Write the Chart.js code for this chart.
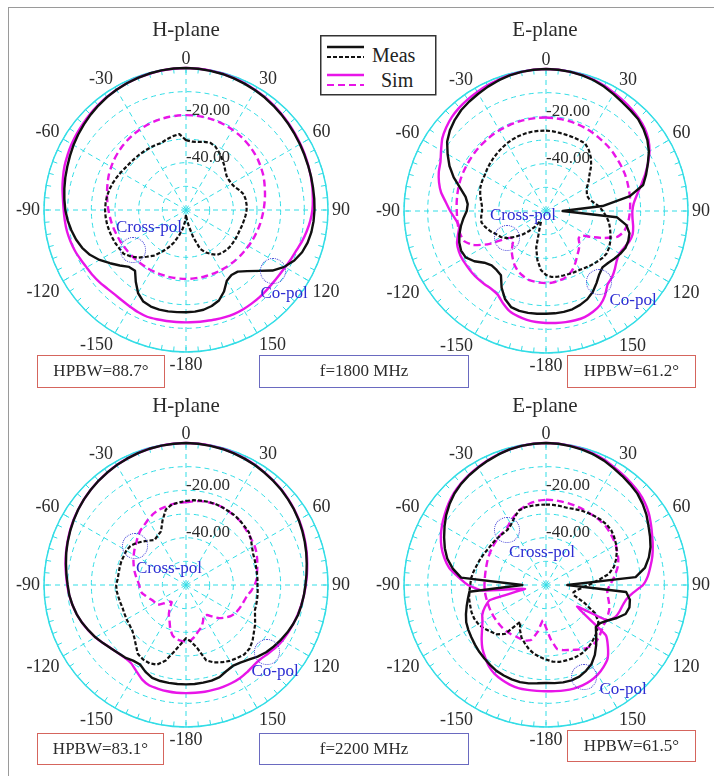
<!DOCTYPE html>
<html>
<head>
<meta charset="UTF-8" />
<title>Radiation patterns • 1800 / 2200 MHz</title>
<script src="https://cdn.jsdelivr.net/npm/chart.js@4.4.1/dist/chart.umd.min.js"></script>
<style>
  body { margin: 0; background: #fff; }
  #figure { position: relative; width: 714px; height: 776px; overflow: hidden; font-family: 'Liberation Serif', 'Times New Roman', serif; color: #2b2b2b; }
  .frame { position: absolute; left: 8px; top: 7px; width: 740px; height: 800px; border: 1px solid #9a9a9a; }
  canvas { position: absolute; }
  .title { position: absolute; width: 120px; margin-left: -60px; text-align: center; font-size: 21px; line-height: 24px; margin-top: -12px; }
  .box { position: absolute; box-sizing: border-box; text-align: center; font-size: 17px; }
  .hpbw { border: 1.5px solid #d5655d; }
  .freq { border: 1.5px solid #6a6ac0; }
  .note { position: absolute; color: #2d2dd2; font-size: 17px; line-height: 18px; transform: translate(-50%, -50%); white-space: nowrap; }
  .spot { position: absolute; width: 26px; height: 26px; margin: -13px 0 0 -13px; box-sizing: border-box; border: 1px dotted #3b3bd6; border-radius: 50%; }
</style>
</head>
<body>
<div id="figure">
  <div class="frame"></div>

  <canvas id="p1" width="360" height="360" style="left:6px;top:30px"></canvas>
  <canvas id="p2" width="360" height="360" style="left:366px;top:31px"></canvas>
  <canvas id="p3" width="360" height="360" style="left:6px;top:405px"></canvas>
  <canvas id="p4" width="360" height="360" style="left:366px;top:405px"></canvas>

  <div class="title" style="left:186px;top:29px">H-plane</div>
  <div class="title" style="left:545px;top:29px">E-plane</div>
  <div class="title" style="left:186px;top:405px">H-plane</div>
  <div class="title" style="left:545px;top:405px">E-plane</div>

  <svg width="117" height="61" style="position:absolute;left:320px;top:35px">
    <rect x="0.75" y="0.75" width="115" height="59" fill="#fff" stroke="#333" stroke-width="1.5"/>
    <line x1="7" y1="12" x2="44" y2="12" stroke="#111" stroke-width="2.4"/>
    <line x1="7" y1="22" x2="44" y2="22" stroke="#111" stroke-width="2.2" stroke-dasharray="4 2"/>
    <line x1="7" y1="40" x2="44" y2="40" stroke="#e815e8" stroke-width="2.4"/>
    <line x1="7" y1="50" x2="44" y2="50" stroke="#e815e8" stroke-width="2.2" stroke-dasharray="7 4"/>
    <text x="52" y="27" font-size="20" font-family="Liberation Serif" fill="#222">Meas</text>
    <text x="61" y="52" font-size="20" font-family="Liberation Serif" fill="#222">Sim</text>
  </svg>

  <div class="spot" style="left:133px;top:250px"></div>
  <div class="note" style="left:149px;top:227px">Cross-pol</div>
  <div class="spot" style="left:273px;top:271px"></div>
  <div class="note" style="left:284px;top:293px">Co-pol</div>

  <div class="spot" style="left:507px;top:238px"></div>
  <div class="note" style="left:523px;top:215px">Cross-pol</div>
  <div class="spot" style="left:599px;top:282px"></div>
  <div class="note" style="left:633px;top:300px">Co-pol</div>

  <div class="spot" style="left:135px;top:546px"></div>
  <div class="note" style="left:169px;top:568px">Cross-pol</div>
  <div class="spot" style="left:267px;top:652px"></div>
  <div class="note" style="left:275px;top:671px">Co-pol</div>

  <div class="spot" style="left:507px;top:530px"></div>
  <div class="note" style="left:542px;top:552px">Cross-pol</div>
  <div class="spot" style="left:584px;top:677px"></div>
  <div class="note" style="left:623px;top:689px">Co-pol</div>

  <div class="box hpbw" style="left:37px;top:355px;width:128px;height:33px;line-height:30px">HPBW=88.7°</div>
  <div class="box freq" style="left:259px;top:355px;width:210px;height:33px;line-height:30px">f=1800 MHz</div>
  <div class="box hpbw" style="left:567px;top:355px;width:129px;height:33px;line-height:30px">HPBW=61.2°</div>
  <div class="box hpbw" style="left:37px;top:733px;width:127px;height:32px;line-height:29px">HPBW=83.1°</div>
  <div class="box freq" style="left:259px;top:733px;width:210px;height:32px;line-height:29px">f=2200 MHz</div>
  <div class="box hpbw" style="left:567px;top:730px;width:129px;height:32px;line-height:29px">HPBW=61.5°</div>
</div>

<script>
  // angle grid: 0..355 deg in 5 deg steps, clockwise from the top
  const angles = Array.from({ length: 72 }, (_, i) => i * 5);
  const tickLabels = ['0', '30', '60', '90', '120', '150', '-180', '-150', '-120', '-90', '-60', '-30'];
  const ringLabels = [-20, -40];

  // normalized patterns in dB, one value per 5 deg (0, 5, ... 355)
  // f = 1800 MHz, H-plane
  const coMeas1 = [0,-0.1,-0.3,-0.5,-0.8,-1.2,-1.6,-2.0,-2.5,-3.0,-3.5,-4.0,
    -4.4,-4.8,-5.1,-5.3,-5.5,-5.6,-5.7,-5.9,-6.2,-6.8,-7.8,-9.5,
    -12,-15.4,-20,-23.5,-26,-26.5,-25.5,-22,-19.3,-18,-17.2,-16.9,
    -16.8,-16.7,-16.5,-16.4,-16.6,-17.3,-19.5,-23,-26.5,-26,-23.5,-20.8,
    -17.8,-15.2,-13.3,-11.9,-10.8,-9.8,-9.0,-8.4,-7.8,-7.2,-6.6,-5.9,
    -5.1,-4.4,-3.7,-3.0,-2.4,-1.8,-1.3,-0.9,-0.6,-0.3,-0.1,0];
  const coSim1 = [0,-0.1,-0.2,-0.4,-0.7,-1.0,-1.4,-1.8,-2.3,-2.8,-3.3,-3.8,
    -4.2,-4.6,-5.0,-5.4,-5.8,-6.2,-6.6,-7.3,-8.2,-9.2,-10.3,-11.0,
    -11.6,-12.0,-12.1,-12.0,-11.8,-11.7,-11.6,-11.6,-11.8,-12.1,-12.4,-12.5,
    -12.5,-12.5,-12.4,-12.2,-12.0,-12.3,-12.8,-13.2,-13.3,-13.0,-12.4,-11.9,
    -11.5,-10.8,-10.0,-9.4,-8.9,-8.6,-8.3,-7.8,-7.0,-6.2,-5.4,-4.8,
    -4.2,-3.7,-3.2,-2.7,-2.2,-1.7,-1.3,-0.9,-0.6,-0.4,-0.2,-0.1];
  const crossMeas1 = [-30.5,-31,-30.8,-30.2,-29.8,-30.5,-32,-33.5,-35,-36.5,-37.6,-37.9,
    -37.8,-37.2,-35.8,-34.7,-34.4,-34.3,-34.4,-34.7,-35.1,-35.4,-35.7,-35.8,
    -35.8,-35.8,-35.8,-36,-36.3,-36.9,-38.5,-40.2,-42.5,-48,-53,-56,
    -58,-55,-52,-49,-45.5,-42.5,-39.5,-36.5,-34.2,-31.5,-29.5,-27.8,
    -27.5,-27,-26.7,-26.4,-26.1,-25.9,-25.8,-25.9,-26.1,-26.5,-27,-27.6,
    -28.2,-28.8,-29.1,-29.3,-29.4,-29.5,-29.6,-29.7,-29.8,-29,-28.3,-27.8];
  const crossSim1 = [-19.9,-19.9,-20,-20.1,-20.3,-20.5,-20.8,-21.1,-21.5,-21.9,-22.4,-22.9,
    -23.5,-24.1,-24.8,-25.5,-26.1,-26.7,-27.2,-27.7,-28.1,-28.5,-28.9,-29.2,
    -29.5,-29.8,-30,-30.2,-30.4,-30.5,-30.6,-30.7,-30.8,-30.8,-30.9,-30.9,
    -30.9,-30.9,-30.9,-30.8,-30.8,-30.7,-30.6,-30.5,-30.4,-30.2,-30,-29.8,
    -29.5,-29.2,-28.9,-28.5,-28.1,-27.7,-27.2,-26.7,-26.1,-25.5,-24.8,-24.1,
    -23.5,-22.9,-22.4,-21.9,-21.5,-21.1,-20.8,-20.5,-20.3,-20.1,-20,-19.9];

  // f = 1800 MHz, E-plane
  const coMeas2 = [0,-0.1,-0.3,-0.7,-1.2,-2,-3,-3.9,-4.5,-5,-6.2,-7.7,
    -9.8,-12.5,-15,-17.5,-24,-36,-53,-30,-25.5,-23.5,-23,-23,
    -23.8,-24.8,-25.8,-26.3,-25,-22.8,-20.5,-18.8,-17.8,-17,-16.7,-16.6,
    -16.6,-16.4,-16.3,-16.3,-16.8,-19,-22.5,-26.8,-27.5,-27.5,-26,-23,
    -20.8,-20.4,-21,-22.1,-23.5,-25,-26.5,-26.8,-25.5,-22.5,-18.5,-15,
    -12,-9,-7,-5.5,-4.3,-3.5,-2.8,-2,-1.3,-0.7,-0.3,-0.1];
  const coSim2 = [0,-0.1,-0.3,-0.6,-1.0,-1.6,-2.4,-3.1,-3.8,-4.6,-5.6,-7.2,
    -9.5,-12.5,-15.5,-18.5,-21,-22.8,-23.5,-23.3,-22.6,-22.1,-22.5,-23.5,
    -24.2,-23.5,-22,-20.5,-19.5,-16.5,-14.2,-13,-12.3,-12.2,-12.3,-12.5,
    -12.7,-12.9,-13.3,-14,-15,-17,-19.2,-19.8,-19.6,-19.4,-19.3,-19.3,
    -19.2,-19.4,-20,-21.5,-22.8,-21.5,-19.5,-17.5,-15,-13.2,-11.8,-10.8,
    -8.8,-6.5,-5,-3.8,-3,-2.4,-1.9,-1.4,-1.0,-0.6,-0.3,-0.1];
  const crossMeas2 = [-26,-26.2,-26.5,-26.7,-26.8,-26.9,-27,-28.5,-30.5,-33,-36,-38,
    -40,-41,-41.5,-41,-39.5,-37.5,-36,-34.5,-33,-32,-31,-30,
    -29.2,-28.7,-29,-29.6,-30.2,-30.8,-31.3,-31.5,-31.7,-31.8,-31.8,-32,
    -33,-35,-39,-44,-52,-55,-55,-52,-49,-46,-43,-40,
    -38,-36.8,-35,-33.5,-32.3,-32.5,-33,-32.8,-32,-31.2,-30.5,-30.2,
    -30,-29.5,-29,-28.5,-28,-27.5,-27,-26.6,-26.3,-26.1,-26,-26];
  const crossSim2 = [-20.5,-20.6,-20.7,-20.8,-21,-21.2,-21.5,-21.8,-22,-22.2,-22.5,-22.8,
    -23,-23.2,-23.5,-23.8,-24,-24.3,-24.5,-24.8,-25.2,-26,-28,-33,
    -38,-42,-42,-40,-38.5,-37,-35,-33,-31.5,-30.5,-30,-29.6,
    -29.5,-29.6,-29.8,-30,-31,-32,-33.5,-35.5,-37.5,-40,-42,-40,
    -32,-26,-23,-22.5,-22.3,-22.3,-22.3,-22.1,-21.9,-21.7,-21.5,-21.4,
    -21.3,-21.2,-21,-20.9,-20.8,-20.7,-20.6,-20.6,-20.5,-20.5,-20.5,-20.5];

  // f = 2200 MHz, H-plane
  const coMeas3 = [0,-0.1,-0.3,-0.5,-0.8,-1.2,-1.6,-2.1,-2.6,-3.1,-3.7,-4.3,
    -5,-5.8,-6.6,-7.4,-8.2,-8.9,-9.5,-10,-10.5,-11,-11.8,-12.7,
    -13.7,-14.7,-15.8,-17.2,-18.8,-20,-20.5,-19.8,-18.6,-18.2,-18.1,-18,
    -18,-18,-18,-18,-18.2,-19.5,-21.2,-21,-20,-19.4,-18.5,-17.2,
    -15.8,-14.6,-13.3,-12.2,-11.3,-10.5,-10,-9.3,-8.5,-7.6,-6.8,-6,
    -5.2,-4.4,-3.7,-3.1,-2.5,-2,-1.5,-1.1,-0.7,-0.4,-0.2,-0.1];
  const coSim3 = [0,-0.1,-0.2,-0.4,-0.7,-1.1,-1.5,-2,-2.5,-3,-3.6,-4.2,
    -4.9,-5.6,-6.4,-7.2,-8,-8.7,-9.4,-10,-10.6,-11.2,-11.8,-12.4,
    -13,-13.8,-14.8,-15.6,-15.6,-15,-14.5,-14.3,-14.2,-14.2,-14.2,-14.3,
    -14.3,-14.3,-14.4,-14.6,-14.8,-16,-18,-19.6,-19.8,-19.4,-18.5,-17.2,
    -15.8,-14.5,-13.3,-12.2,-11.3,-10.5,-9.8,-9.1,-8.3,-7.5,-6.7,-5.9,
    -5.1,-4.4,-3.7,-3.1,-2.5,-2,-1.5,-1.1,-0.7,-0.4,-0.2,-0.1];
  const crossMeas3 = [-24.5,-24,-23.8,-23.6,-23.6,-23.8,-24,-24.1,-24.5,-25,-25.3,-26.5,
    -27.8,-28.7,-29.1,-29.4,-29.6,-29.7,-29.8,-29.6,-29.4,-29.2,-29,-27.8,
    -26.3,-25,-23.3,-22,-21.7,-22.3,-23,-24,-25.2,-27,-33,-36,
    -37.5,-35,-31.5,-27,-24.2,-23.5,-23.7,-24.5,-27,-29,-30.3,-30.8,
    -31,-31.3,-31.5,-31.3,-31,-30.6,-30.5,-31,-31.1,-31,-30.9,-31,
    -30.9,-31.3,-32.5,-34,-35.5,-36.8,-36,-35,-31,-27,-25.5,-25];
  const crossSim3 = [-25,-24.5,-24,-23.8,-23.6,-23.7,-24,-24.3,-24.6,-25.3,-25.8,-26.3,
    -26.6,-27.2,-28,-28.8,-29.5,-30,-31,-32.3,-33.8,-34.5,-35,-35.5,
    -36,-37,-38.5,-40.2,-42.5,-44.5,-45,-43,-41,-39.8,-38,-36.6,
    -36.1,-36.3,-36.8,-38,-40.5,-43.5,-45.5,-48,-50.6,-50,-48,-45.4,
    -45,-44.5,-43.5,-42.3,-41,-40.6,-40.2,-39.5,-38.5,-37.5,-36.5,-35.5,
    -34.5,-33.5,-32.5,-31.2,-30,-29.2,-28,-27,-26.2,-25.8,-25.4,-25.2];

  // f = 2200 MHz, E-plane
  const coMeas4 = [0,-0.1,-0.4,-0.8,-1.3,-2,-3,-3.8,-4.6,-5.4,-6.7,-8.2,
    -10,-11.5,-13,-15,-17.5,-22,-51,-26,-24,-23.5,-24.2,-27,
    -30,-32,-32.5,-30,-27,-24,-21.5,-20,-18.8,-18.3,-18.2,-18.4,
    -18.6,-18.3,-17.8,-17.5,-17.6,-17.8,-18.1,-18.8,-19.5,-20.1,-20.8,-21.5,
    -22.1,-22.8,-24,-25.3,-26.5,-27.5,-50,-24,-20,-16.8,-14.5,-12.5,
    -10.5,-8.5,-6.8,-5.3,-4.2,-3.4,-2.7,-2,-1.3,-0.7,-0.3,-0.1];
  const coSim4 = [0,-0.1,-0.3,-0.6,-1.0,-1.6,-2.5,-3.2,-3.9,-4.6,-5.6,-7,
    -8.8,-10.5,-12,-13.5,-15.2,-16.8,-19,-23,-25.5,-26.5,-27,-27.8,
    -30,-44,-27,-23,-19.5,-17.7,-16.3,-15.4,-14.9,-14.7,-14.8,-15,
    -15.1,-15.1,-15,-14.9,-15.2,-15.8,-16.6,-18,-20,-22,-24.5,-27,
    -29,-30.3,-32.5,-35.5,-51,-33,-27,-23,-18.5,-15.5,-13,-11,
    -9.3,-7.8,-6.3,-5,-4,-3.2,-2.5,-1.8,-1.2,-0.7,-0.3,-0.1];
  const crossMeas4 = [-26,-26,-26.1,-26.2,-25.8,-25.2,-24.8,-24.4,-24,-23.8,-24,-24.8,
    -25.8,-27,-28.5,-30.3,-33,-38,-42,-45,-47,-48,-47.5,-42,
    -36,-33,-31.5,-30.3,-29.3,-28.3,-27.6,-27.1,-27,-27,-27,-27.5,
    -28.5,-29.5,-30.5,-32,-33.8,-35.5,-38,-41,-33,-30.5,-29.4,-28,
    -27,-26.5,-26.5,-26.8,-27,-27.5,-28,-28.2,-28.8,-29.5,-30,-30.5,
    -31,-31.3,-31.4,-31.5,-31.6,-31.6,-30.5,-28.5,-26.5,-26,-26,-26];
  const crossSim4 = [-24,-24,-24.1,-24.2,-24.3,-24.4,-24.5,-24.5,-24.5,-24.6,-25,-25.5,
    -26,-26.8,-27.5,-28.5,-30,-31.5,-33,-34,-33.5,-32.5,-31.5,-31,
    -30.7,-30.3,-29.5,-28.5,-28,-28,-28.8,-29.8,-30.8,-31.5,-32.5,-37,
    -42,-45,-40,-36,-35,-34.8,-34.8,-34.5,-34.3,-34.2,-34.2,-34.2,
    -34.2,-34.2,-34.2,-34.2,-34.1,-34,-34,-34,-33.9,-33.7,-33.4,-33,
    -32.7,-32.3,-32,-31.6,-31.3,-31,-29.5,-28,-26.5,-25.5,-24.7,-24.2];

  const CYAN = '#33dde6';
  const BLACK = '#111111';
  const MAGENTA = '#e815e8';

  // solid outer circle, 5 deg tick marks, dB ring labels and angle labels
  const polarFrame = {
    id: 'polarFrame',
    beforeDatasetsDraw(chart) {
      const r = chart.scales.r;
      const ctx = chart.ctx;
      const R = r.drawingArea;
      ctx.save();
      ctx.strokeStyle = CYAN;
      ctx.setLineDash([]);
      ctx.lineWidth = 1.5;
      ctx.beginPath();
      ctx.arc(r.xCenter, r.yCenter, R, 0, Math.PI * 2);
      ctx.stroke();
      ctx.lineWidth = 1;
      angles.forEach((a, i) => {
        const p = r.getPointPosition(i, R);
        const q = r.getPointPosition(i, R - 5);
        ctx.beginPath();
        ctx.moveTo(p.x, p.y);
        ctx.lineTo(q.x, q.y);
        ctx.stroke();
      });
      ctx.restore();
    },
    afterDatasetsDraw(chart) {
      const r = chart.scales.r;
      const ctx = chart.ctx;
      const R = r.drawingArea;
      ctx.save();
      ctx.fillStyle = '#2b2b2b';
      ctx.font = '17px "Liberation Serif"';
      ctx.textAlign = 'left';
      ctx.textBaseline = 'middle';
      ringLabels.forEach(v => {
        const d = r.getDistanceFromCenterForValue(v);
        ctx.fillText(v.toFixed(2), r.xCenter, r.yCenter - d - 5);
      });
      ctx.font = '18px "Liberation Serif"';
      angles.forEach((a, i) => {
        if (a % 30) return;
        const p = r.getPointPosition(i, R + 4);
        ctx.textAlign = (a === 0 || a === 180) ? 'center' : (a < 180 ? 'left' : 'right');
        ctx.textBaseline = (a === 90 || a === 270) ? 'middle' : ((a < 90 || a > 270) ? 'alphabetic' : 'top');
        ctx.fillText(tickLabels[a / 30], p.x, p.y);
      });
      ctx.restore();
    }
  };

  function pattern(id, coMeas, coSim, crossMeas, crossSim) {
    const line = { fill: false, pointRadius: 0, backgroundColor: 'transparent', borderJoinStyle: 'round' };
    return new Chart(id, {
      type: 'radar',
      data: {
        labels: angles,
        datasets: [
          { ...line, data: coMeas, borderColor: BLACK, borderWidth: 2.4, tension: 0 },
          { ...line, data: coSim, borderColor: MAGENTA, borderWidth: 2.4, tension: 0.15 },
          { ...line, data: crossMeas, borderColor: BLACK, borderWidth: 2.2, borderDash: [4, 2], tension: 0 },
          { ...line, data: crossSim, borderColor: MAGENTA, borderWidth: 2.4, borderDash: [7, 4], tension: 0.15 }
        ]
      },
      plugins: [polarFrame],
      options: {
        responsive: false,
        animation: false,
        devicePixelRatio: 1,
        layout: { padding: 38 },
        plugins: { legend: { display: false }, tooltip: { enabled: false } },
        scales: {
          r: {
            min: -60,
            max: 0,
            startAngle: 0,
            ticks: { stepSize: 10, display: false },
            grid: { circular: true, color: CYAN, lineWidth: 1 },
            border: { dash: [5, 4] },
            angleLines: {
              color: CYAN,
              lineWidth: ctx => (ctx.index % 6 === 0 ? 1 : 0),
              borderDash: [5, 4]
            },
            pointLabels: { display: false }
          }
        }
      }
    });
  }

  pattern('p1', coMeas1, coSim1, crossMeas1, crossSim1);
  pattern('p2', coMeas2, coSim2, crossMeas2, crossSim2);
  pattern('p3', coMeas3, coSim3, crossMeas3, crossSim3);
  pattern('p4', coMeas4, coSim4, crossMeas4, crossSim4);
</script>
</body>
</html>
